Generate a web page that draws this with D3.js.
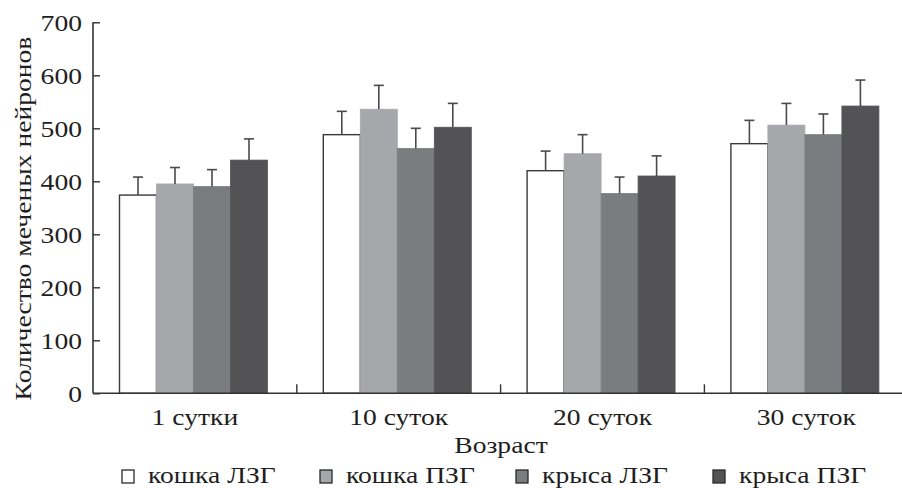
<!DOCTYPE html>
<html><head><meta charset="utf-8">
<script src="https://cdn.jsdelivr.net/npm/d3@7"></script>
<style>
html,body{margin:0;padding:0;background:#fff;}
svg{display:block;}
svg text{font-family:"Liberation Serif",serif;}
</style></head>
<body>
<svg id="chart" width="902" height="488"></svg>
<script>
const categories = ["1 сутки", "10 суток", "20 суток", "30 суток"];
const seriesNames = ["кошка ЛЗГ", "кошка ПЗГ", "крыса ЛЗГ", "крыса ПЗГ"];
const catLZG = [374, 488, 420, 471];
const catPZG = [395, 536, 452, 506];
const ratLZG = [390, 462, 377, 488];
const ratPZG = [440, 502, 410, 542];
const catLZGerr = [408, 532, 457, 515];
const catPZGerr = [426, 581, 488, 547];
const ratLZGerr = [422, 500, 408, 527];
const ratPZGerr = [480, 547, 448, 591];
const yTicks = [0, 100, 200, 300, 400, 500, 600, 700];
const colors = ["#ffffff", "#a6a7aa", "#7b7c80", "#535355"];

const values = [catLZG, catPZG, ratLZG, ratPZG];
const errs = [catLZGerr, catPZGerr, ratLZGerr, ratPZGerr];
const FONT = "'Liberation Serif', serif";
const TXT = "#1e1e1e";
const FS = 24;
const SX = 1.15;

const svg = d3.select("#chart");
const x0 = d3.scaleBand().domain(categories).range([93, 908.2]).padding(0);
const x1 = d3.scaleBand().domain(seriesNames).range([26.5, 174.5]).padding(0);
const y = d3.scaleLinear().domain([0, 700]).range([393.3, 22.3]);
const color = d3.scaleOrdinal().domain(seriesNames).range(colors);

function styleText(sel) {
  return sel.style("font-family", FONT).style("font-size", FS + "px").style("fill", TXT);
}

const data = [];
categories.forEach((c, i) => {
  seriesNames.forEach((s, j) => {
    data.push({cat: c, ser: s, v: values[j][i], e: errs[j][i]});
  });
});

const g = svg.append("g");
g.selectAll("rect.bar").data(data).join("rect")
  .attr("class", "bar")
  .attr("x", d => x0(d.cat) + x1(d.ser))
  .attr("width", x1.bandwidth())
  .attr("y", d => y(d.v))
  .attr("height", d => y(0) - y(d.v))
  .attr("fill", d => color(d.ser))
  .attr("stroke", d => d.ser === seriesNames[0] ? "#3a3a3a" : color(d.ser))
  .attr("stroke-width", d => d.ser === seriesNames[0] ? 1.4 : 0.8);

const eb = svg.append("g").attr("stroke", "#4a4a4a").attr("stroke-width", 1.6);
eb.selectAll("line.v").data(data).join("line").attr("class", "v")
  .attr("x1", d => x0(d.cat) + x1(d.ser) + x1.bandwidth() / 2)
  .attr("x2", d => x0(d.cat) + x1(d.ser) + x1.bandwidth() / 2)
  .attr("y1", d => y(d.v))
  .attr("y2", d => y(d.e));
eb.selectAll("line.c").data(data).join("line").attr("class", "c")
  .attr("x1", d => x0(d.cat) + x1(d.ser) + x1.bandwidth() / 2 - 5)
  .attr("x2", d => x0(d.cat) + x1(d.ser) + x1.bandwidth() / 2 + 5)
  .attr("y1", d => y(d.e))
  .attr("y2", d => y(d.e));

// Y axis
const yAxis = svg.append("g").attr("transform", "translate(93,0)")
  .call(d3.axisLeft(y).tickValues(yTicks).tickSize(-7).tickPadding(11));
yAxis.attr("font-family", null).attr("font-size", null);
yAxis.select(".domain").attr("stroke", "#333").attr("stroke-width", 1.6).attr("d", `M0,${y(700)}V${y(0)}`);
yAxis.selectAll(".tick line").attr("stroke", "#333").attr("stroke-width", 1.4);
styleText(yAxis.selectAll(".tick text"))
  .attr("x", 0).attr("dy", "0.34em")
  .attr("transform", `translate(-11,0) scale(${SX},1)`);

// X axis
const xAxis = svg.append("g").attr("transform", `translate(0,${y(0)})`);
xAxis.append("line").attr("x1", 93).attr("x2", 908).attr("y1", 0).attr("y2", 0)
  .attr("stroke", "#333").attr("stroke-width", 1.6);
xAxis.selectAll("line.sep").data(categories.slice(1)).join("line").attr("class", "sep")
  .attr("x1", d => x0(d)).attr("x2", d => x0(d)).attr("y1", 0).attr("y2", -9)
  .attr("stroke", "#333").attr("stroke-width", 1.4);
styleText(xAxis.selectAll("text").data(categories).join("text")
  .attr("transform", d => `translate(${x0(d) + x0.bandwidth() / 2},32) scale(${SX},1)`)
  .attr("text-anchor", "middle"))
  .text(d => d);

// Axis titles
styleText(svg.append("text").attr("transform", `translate(501,453) scale(${SX},1)`)
  .attr("text-anchor", "middle"))
  .text("Возраст");
styleText(svg.append("text").attr("transform", `translate(31,218.5) rotate(-90) scale(${SX},1)`)
  .attr("text-anchor", "middle"))
  .text("Количество меченых нейронов");

// Legend
const legX = [122, 320, 516, 713];
const leg = svg.append("g");
const li = leg.selectAll("g").data(seriesNames).join("g")
  .attr("transform", (d, i) => `translate(${legX[i]},470)`);
li.append("rect").attr("width", 12).attr("height", 13)
  .attr("fill", d => color(d)).attr("stroke", "#2a2a2a").attr("stroke-width", 1.3);
styleText(li.append("text").attr("transform", `translate(26,13) scale(${SX},1)`)).text(d => d);
</script>
</body></html>
